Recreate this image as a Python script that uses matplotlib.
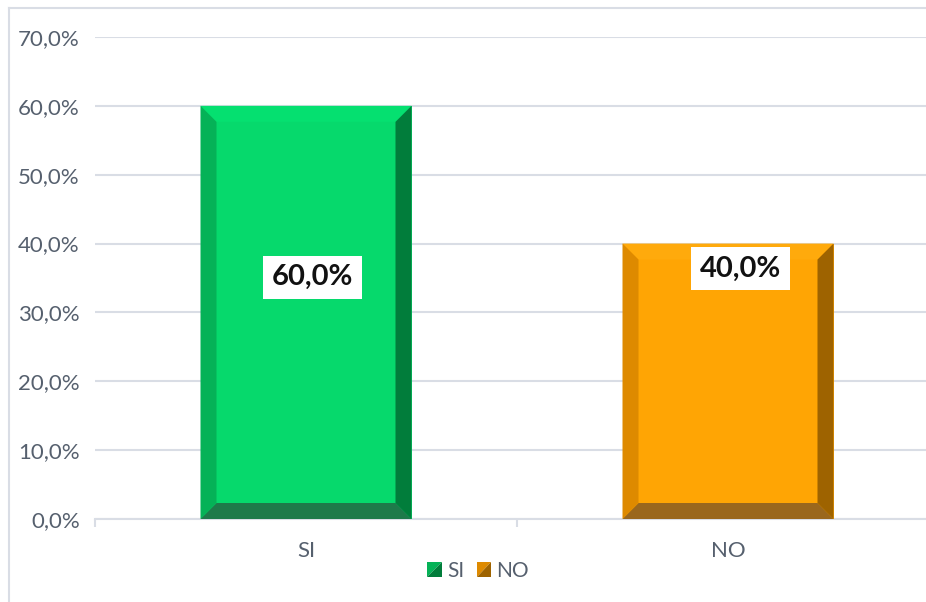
import matplotlib
matplotlib.use("Agg")
import matplotlib.pyplot as plt
from matplotlib.patches import Polygon, Rectangle
from matplotlib.lines import Line2D
from matplotlib.legend_handler import HandlerBase
import numpy as np

categories = ["SI", "NO"]
values = [60.0, 40.0]
value_labels = ["60,0%", "40,0%"]
yticks = [0, 10, 20, 30, 40, 50, 60, 70]
ytick_labels = ["0,0%", "10,0%", "20,0%", "30,0%", "40,0%", "50,0%", "60,0%", "70,0%"]

# styling (not data)
palettes = [
    dict(face="#06D96C", top="#05E070", left="#05B257", right="#017D3B", bottom="#1E7A4A"),
    dict(face="#FFA504", top="#FFAA0C", left="#DE8A00", right="#9E6300", bottom="#9A671D"),
]
label_pos = [(0.015, 35.1), (0.03, 36.4)]  # offset in category units, y in data
FONT = ["Lato", "DejaVu Sans"]
TXT = "#56606E"
GRID = "#D9DDE5"

W, H = 926, 602
fig = plt.figure(figsize=(W / 100, H / 100), dpi=100)
ax_left, ax_right = 95, 939
ax_top, ax_bot = 37, 519
ax = fig.add_axes([ax_left / W, 1 - ax_bot / H, (ax_right - ax_left) / W, (ax_bot - ax_top) / H])
ax.set_xlim(-0.5, 1.5)
ax.set_ylim(0, 70)

for s in ["top", "right", "left"]:
    ax.spines[s].set_visible(False)
ax.spines["bottom"].set_color(GRID)
ax.spines["bottom"].set_linewidth(1.5)
ax.spines["bottom"].set_zorder(0.5)

ax.set_yticks(yticks)
ax.set_yticklabels(ytick_labels, fontfamily=FONT, fontsize=16, color=TXT)
ax.tick_params(axis="y", length=0, pad=11)
ax.yaxis.grid(True, color=GRID, linewidth=1.5)
ax.set_axisbelow(True)

x = np.arange(len(categories))
ax.set_xticks(x)
ax.set_xticklabels(categories, fontfamily=FONT, fontsize=16, color=TXT)
ax.tick_params(axis="x", length=0, pad=16)
# minor ticks at category boundaries
ax.set_xticks([-0.5, 0.5, 1.5], minor=True)
ax.tick_params(axis="x", which="minor", length=6, width=1.5, color=GRID)

bw = 0.5
bars = ax.bar(x, values, width=bw, color=[p["face"] for p in palettes], zorder=2)

fig.canvas.draw()
inv = ax.transData.inverted()
b = 16  # bevel in px
for bar, pal in zip(bars, palettes):
    x0, y0 = bar.get_x(), bar.get_y()
    x1, y1 = x0 + bar.get_width(), y0 + bar.get_height()
    (X0, Y0), (X1, Y1) = ax.transData.transform([(x0, y0), (x1, y1)])
    outer = dict(bl=(X0, Y0), br=(X1, Y0), tr=(X1, Y1), tl=(X0, Y1))
    inner = dict(bl=(X0 + b, Y0 + b), br=(X1 - b, Y0 + b), tr=(X1 - b, Y1 - b), tl=(X0 + b, Y1 - b))
    quads = {
        "top": [outer["tl"], outer["tr"], inner["tr"], inner["tl"]],
        "bottom": [outer["bl"], outer["br"], inner["br"], inner["bl"]],
        "left": [outer["bl"], outer["tl"], inner["tl"], inner["bl"]],
        "right": [outer["br"], outer["tr"], inner["tr"], inner["br"]],
    }
    for k, pts in quads.items():
        ax.add_patch(Polygon(inv.transform(pts), closed=True, facecolor=pal[k],
                             edgecolor="none", zorder=3))

for i, (lab, (dx, ly)) in enumerate(zip(value_labels, label_pos)):
    ax.text(x[i] + dx, ly, lab, ha="center", va="center", fontsize=21, fontweight="bold",
            fontfamily=FONT, color="#111111", zorder=5,
            bbox=dict(boxstyle="square,pad=0.3", facecolor="white", edgecolor="none"))


class BevelHandler(HandlerBase):
    def __init__(self, pal):
        super().__init__()
        self.pal = pal

    def create_artists(self, legend, orig_handle, xdescent, ydescent, width, height, fontsize, trans):
        s = height * 1.0
        ox = -xdescent + width - s
        oy = -ydescent
        p1 = Polygon([(ox, oy), (ox, oy + s), (ox + s, oy + s)], closed=True,
                     facecolor=self.pal["left"], edgecolor="none", transform=trans)
        p2 = Polygon([(ox, oy), (ox + s, oy), (ox + s, oy + s)], closed=True,
                     facecolor=self.pal["right"], edgecolor="none", transform=trans)
        return [p1, p2]


handles = [Rectangle((0, 0), 1, 1) for _ in categories]
leg = fig.legend(handles, categories, loc="center", bbox_to_anchor=(478 / W, 1 - 571 / H),
                 ncol=2, frameon=False, handlelength=0.7, handleheight=0.7, handletextpad=0.25,
                 columnspacing=0.6,
                 prop=dict(family=FONT, size=15),
                 handler_map={h: BevelHandler(p) for h, p in zip(handles, palettes)})
for t in leg.get_texts():
    t.set_color(TXT)

# figure border (left and top)
fig.add_artist(Line2D([9 / W, 9 / W], [0, 1 - 8 / H], color=GRID, linewidth=1.5))
fig.add_artist(Line2D([9 / W, 1], [1 - 8 / H, 1 - 8 / H], color=GRID, linewidth=1.5))

fig.savefig("out.png", dpi=100)
